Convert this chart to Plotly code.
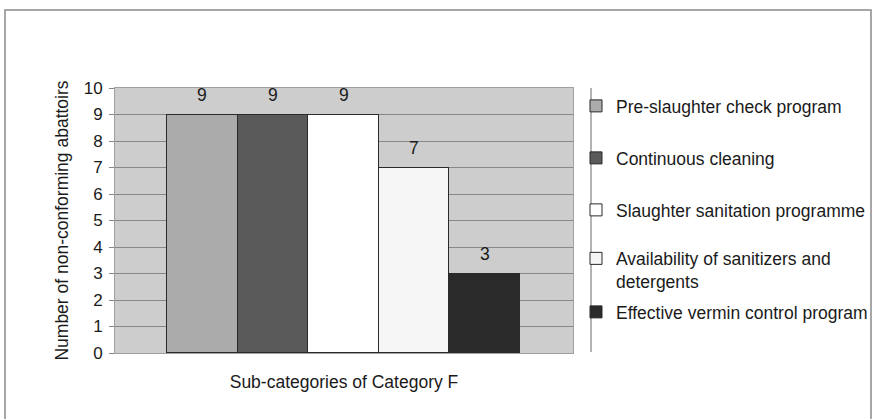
import plotly.graph_objects as go

# Sub-categories of Category F and the number of non-conforming abattoirs
subcategories = [
    "Pre-slaughter check program",
    "Continuous cleaning",
    "Slaughter sanitation programme",
    "Availability of sanitizers and<br>detergents",
    "Effective vermin control program",
]
counts = [9, 9, 9, 7, 3]
bar_colors = ["#ababab", "#5a5a5a", "#ffffff", "#f6f6f6", "#2a2a2a"]
y_ticks = list(range(0, 11))

FONT = "Liberation Sans, Arial, sans-serif"
FS = 17.5
TXT = "#1a1a1a"
W, H = 874, 419
L, R, T, B = 115, 301, 88, 66
PW, PH = W - L - R, H - T - B


def px_x(px):
    return (px - L) / PW


def px_y(py):
    return (H - B - py) / PH


fig = go.Figure()

legend_names = ["legend", "legend2", "legend3", "legend4", "legend5"]
legend_centers = [106, 158, 210, 270, 312]

for i, (name, val, col) in enumerate(zip(subcategories, counts, bar_colors)):
    fig.add_trace(go.Bar(
        x=[name], y=[val], name=name,
        marker=dict(color=col, line=dict(color="#2a2a2a", width=1)),
        legend=legend_names[i], showlegend=True,
        hoverinfo="y",
    ))
    fig.add_annotation(
        x=name, y=val, text=str(val), showarrow=False,
        yanchor="bottom", yshift=8,
        font=dict(family=FONT, size=FS, color=TXT),
    )

legend_layout = {}
for i, ln in enumerate(legend_names):
    legend_layout[ln] = dict(
        x=px_x(576), xanchor="left",
        y=px_y(legend_centers[i]), yanchor="middle",
        bgcolor="rgba(0,0,0,0)", borderwidth=0,
        valign="top",
        font=dict(family=FONT, size=FS, color=TXT),
    )

fig.update_layout(
    width=W, height=H,
    margin=dict(l=L, r=R, t=T, b=B, pad=0, autoexpand=False),
    paper_bgcolor="white",
    plot_bgcolor="#cdcdcd",
    barmode="stack",
    bargap=0,
    showlegend=True,
    font=dict(family=FONT, size=FS, color=TXT),
    **legend_layout,
)

fig.update_xaxes(
    type="category",
    categoryorder="array", categoryarray=subcategories,
    range=[-1.237, 5.251],
    showticklabels=False, ticks="",
    showgrid=False, zeroline=False,
    showline=True, linecolor="#a0a0a0", linewidth=1, mirror=True,
    title=dict(text="Sub-categories of Category F", standoff=22,
               font=dict(family=FONT, size=FS, color=TXT)),
)

fig.update_yaxes(
    range=[0, 10], tickvals=y_ticks,
    showgrid=True, gridcolor="#878787", gridwidth=1,
    zeroline=False,
    ticks="outside", ticklen=5, tickcolor="#878787",
    ticklabelstandoff=3,
    showline=True, linecolor="#a0a0a0", linewidth=1, mirror=True,
    tickfont=dict(family=FONT, size=17, color=TXT),
    title=dict(text="Number of non-conforming abattoirs", standoff=10,
               font=dict(family=FONT, size=FS, color=TXT)),
)

# Legend separator line and outer chart frame
fig.add_shape(type="line", xref="paper", yref="paper",
              x0=px_x(591), x1=px_x(591), y0=px_y(352), y1=px_y(88),
              line=dict(color="#9a9a9a", width=1.5))
fig.add_shape(type="rect", xref="paper", yref="paper",
              x0=px_x(5), x1=px_x(871), y0=px_y(430), y1=px_y(10),
              line=dict(color="#8a8a8a", width=1.5), layer="below")

fig.write_html("out.html")
